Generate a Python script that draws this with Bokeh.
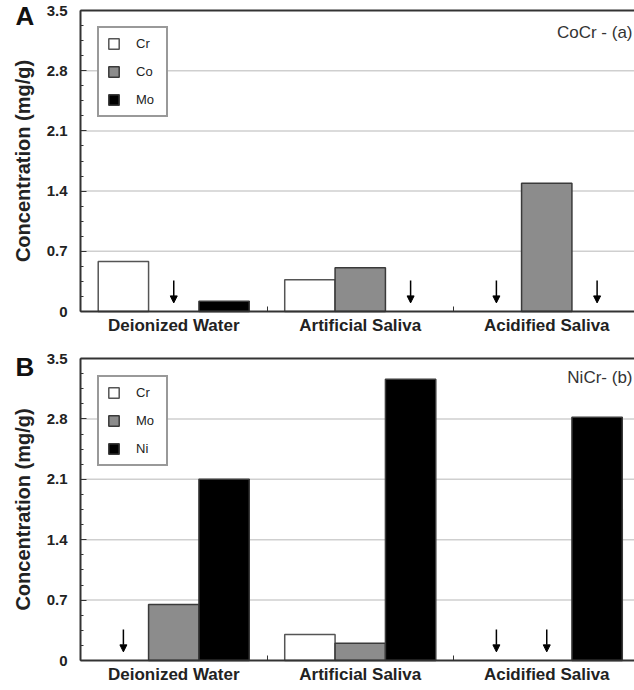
from bokeh.plotting import figure
from bokeh.layouts import column
from bokeh.models import (Range1d, FixedTicker, Label, Arrow, NormalHead,
                          ColumnDataSource, LinearAxis)
from bokeh.embed import file_html
from bokeh.resources import INLINE

# ---------------- data ----------------
groups = ["Deionized Water", "Artificial Saliva", "Acidified Saliva"]
y_ticks = [0, 0.7, 1.4, 2.1, 2.8, 3.5]
y_tick_labels = ["0", "0.7", "1.4", "2.1", "2.8", "3.5"]
grid_vals = [0.7, 1.4, 2.1, 2.8]
Y_MAX = 3.5

# Panel A: CoCr  (None = below detection, shown with an arrow)
a_names = ["Cr", "Co", "Mo"]
a_cr = [0.58, 0.37, None]
a_co = [None, 0.51, 1.49]
a_mo = [0.12, None, None]

# Panel B: NiCr
b_names = ["Cr", "Mo", "Ni"]
b_cr = [None, 0.30, None]
b_mo = [0.65, 0.20, None]
b_ni = [2.10, 3.26, 2.82]

FILLS = ["white", "#8c8c8c", "black"]
EDGES = ["#555555", "#3a3a3a", "#3a3a3a"]
FONT = "Liberation Sans"
W = 634
GROUP_PX = 186.5
X0 = -80 / GROUP_PX          # left region (for axis labels) inside the frame
X1 = (W - 80) / GROUP_PX


def make_panel(letter, tag, names, series, height, top_px, zero_px, legend_bottom_px,
               letter_cy, tag_cy):
    """top_px / zero_px: pixel rows (within this figure) of y=3.5 and y=0."""
    ppu = (zero_px - top_px) / Y_MAX
    y0 = -(height - zero_px) / ppu
    y1 = Y_MAX + top_px / ppu
    p = figure(width=W, height=height, output_backend="svg", toolbar_location=None,
               min_border_left=0, min_border_right=0, min_border_top=0,
               min_border_bottom=0, background_fill_color="white",
               border_fill_color="white")
    p.outline_line_color = None
    p.x_range = Range1d(X0, X1)
    p.y_range = Range1d(y0, y1)
    p.xgrid.visible = False
    p.ygrid.visible = False

    xa = p.below[0]
    ya = p.left[0]

    # horizontal grid lines restricted to the plotting area
    gsrc = ColumnDataSource(dict(x0=[0] * len(grid_vals), x1=[X1] * len(grid_vals),
                                 y=grid_vals))
    p.segment(x0="x0", x1="x1", y0="y", y1="y", source=gsrc, line_color="#cfcfcf",
              line_width=1.5, level="underlay")

    bw = 0.27
    offsets = [-0.27, 0.0, 0.27]
    arrows_x = []
    for k, (name, vals) in enumerate(zip(names, series)):
        xs = [i + 0.5 + offsets[k] for i in range(len(groups))]
        tops = [v if v is not None else float("nan") for v in vals]
        p.vbar(x=xs, top=tops, width=bw, bottom=0, fill_color=FILLS[k],
               line_color=EDGES[k], line_width=1.5, legend_label=name)
        for x, v in zip(xs, vals):
            if v is None:
                arrows_x.append(x)

    src = ColumnDataSource(dict(x0=arrows_x, y0=[0.36] * len(arrows_x),
                                x1=arrows_x, y1=[0.1] * len(arrows_x)))
    p.add_layout(Arrow(end=NormalHead(size=7, fill_color="black", line_color="black"),
                       x_start="x0", y_start="y0", x_end="x1", y_end="y1",
                       source=src, line_width=1.5, line_color="black"))

    # top border as an axis line (no ticks, no labels)
    top = LinearAxis(ticker=FixedTicker(ticks=[]), bounds=(0, X1), fixed_location=Y_MAX,
                     axis_line_color="#333333", axis_line_width=2,
                     major_tick_out=0, major_tick_in=0, minor_tick_out=0, minor_tick_in=0,
                     major_label_text_font_size="0px")
    p.add_layout(top, "above")

    # y axis at x = 0
    ya.fixed_location = 0
    ya.bounds = (0, Y_MAX)
    minor = [round(t * 0.175, 4) for t in range(0, 21)]
    ya.ticker = FixedTicker(ticks=y_ticks, minor_ticks=minor)
    ya.major_label_overrides = {t: l for t, l in zip(y_ticks, y_tick_labels)}
    ya.axis_line_color = "#333333"
    ya.axis_line_width = 2
    ya.major_tick_in = 6
    ya.major_tick_out = 0
    ya.minor_tick_in = 3
    ya.minor_tick_out = 0
    ya.major_tick_line_color = "#333333"
    ya.minor_tick_line_color = "#333333"
    ya.major_label_text_font = FONT
    ya.major_label_text_font_style = "bold"
    ya.major_label_text_font_size = "15px"
    ya.major_label_text_color = "#222222"
    ya.major_label_standoff = 13
    ya.axis_label = "Concentration (mg/g)"
    ya.axis_label_text_font = FONT
    ya.axis_label_text_font_style = "bold"
    ya.axis_label_text_font_size = "20px"
    ya.axis_label_text_color = "#222222"
    ya.axis_label_standoff = 10

    # x axis at y = 0
    centers = [i + 0.5 for i in range(len(groups))]
    xa.fixed_location = 0
    xa.bounds = (0, X1)
    xa.ticker = FixedTicker(ticks=centers, minor_ticks=[1, 2])
    xa.major_label_overrides = {c: g for c, g in zip(centers, groups)}
    xa.axis_line_color = "#333333"
    xa.axis_line_width = 2
    xa.major_tick_in = 0
    xa.major_tick_out = 0
    xa.minor_tick_in = 5
    xa.minor_tick_out = 0
    xa.minor_tick_line_color = "#333333"
    xa.major_label_text_font = FONT
    xa.major_label_text_font_style = "bold"
    xa.major_label_text_font_size = "17px"
    xa.major_label_text_color = "#222222"
    xa.major_label_standoff = 4

    # legend
    lg = p.legend[0]
    lg.location = (97, height - legend_bottom_px)
    lg.padding = 8
    lg.spacing = 13
    lg.glyph_width = 13
    lg.glyph_height = 13
    lg.label_height = 13
    lg.label_width = 22
    lg.label_standoff = 16
    lg.label_text_font = FONT
    lg.label_text_font_size = "13px"
    lg.label_text_color = "#222222"
    lg.border_line_color = "#333333"
    lg.border_line_width = 2
    lg.background_fill_color = "white"
    lg.background_fill_alpha = 1.0

    # panel letter and sample tag
    p.add_layout(Label(x=15, y=height - letter_cy, x_units="screen", y_units="screen",
                       text=letter, text_font=FONT, text_font_style="bold",
                       text_font_size="26px", text_color="#111111",
                       text_align="left", text_baseline="middle"))
    p.add_layout(Label(x=632, y=height - tag_cy, x_units="screen", y_units="screen",
                       text=tag, text_font=FONT, text_font_size="17px",
                       text_color="#333333", text_align="right", text_baseline="middle"))
    return p


pA = make_panel("A", "CoCr - (a)", a_names, [a_cr, a_co, a_mo], 346,
                top_px=10, zero_px=311, legend_bottom_px=117, letter_cy=15, tag_cy=32)
pB = make_panel("B", "NiCr- (b)", b_names, [b_cr, b_mo, b_ni], 342,
                top_px=12, zero_px=314, legend_bottom_px=120, letter_cy=20, tag_cy=31)

layout = column(pA, pB, spacing=0)
open("out.html", "w").write(file_html(layout, INLINE))
